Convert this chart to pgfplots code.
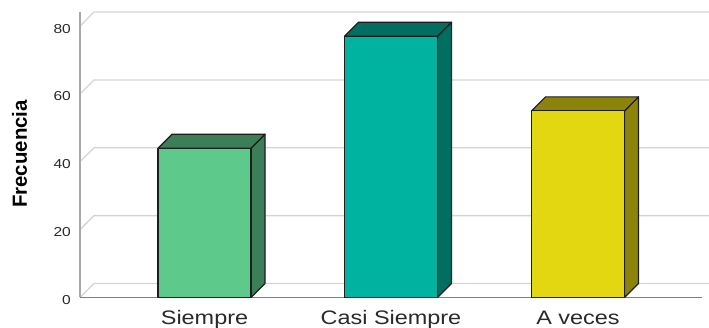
\documentclass[border=0pt]{standalone}
\usepackage{pgfplots}
\pgfplotsset{compat=1.18}
\usepackage{fontspec}
\setmainfont{Liberation Sans}
\newfontfamily\widesans[FakeStretch=1.2]{Liberation Sans}

\definecolor{gridc}{HTML}{D4D4D4}
\definecolor{wallc}{HTML}{A8A8A8}
\definecolor{floorc}{HTML}{7F7F7F}
\definecolor{edgec}{HTML}{1E1E1E}
\definecolor{labelc}{HTML}{2A2A2A}
\definecolor{siemF}{HTML}{5DCA8B}
\definecolor{siemS}{HTML}{3B7E57}
\definecolor{casiF}{HTML}{00B3A0}
\definecolor{casiS}{HTML}{006F62}
\definecolor{aveF}{HTML}{E3D712}
\definecolor{aveS}{HTML}{8C830A}

% depth of the pseudo-3D extrusion (x in axis units, y in value units)
\newcommand{\dx}{14}
\newcommand{\dy}{4.13}

\pgfplotsset{
  face/.style={draw=edgec, line width=1.2bp, fill=#1, line join=round},
  table/deep/.style={x expr=\thisrow{x}+\dx*\thisrow{d}, y expr=\thisrow{y}+\dy*\thisrow{d}},
  wall/.style={draw=gridc, line width=1.3bp},
}

\begin{document}
\begin{tikzpicture}
\begin{axis}[
  x=1bp, y=3.3925bp,
  xmin=80, xmax=709, ymin=0, ymax=87.69,
  clip=false,
  axis line style={draw=none},
  major tick length=0pt,
  xtick={204.5,391,578},
  xticklabels={Siempre, Casi Siempre, A veces},
  xticklabel style={anchor=base, yshift=-27.5bp, text=labelc,
    font=\widesans\fontsize{19.6}{20}\selectfont},
  ytick={0,20,40,60,80},
  /pgf/number format/assume math mode=true,
  yticklabel style={anchor=east, inner sep=0pt, xshift=-9bp, yshift=-2.5bp,
    text=labelc, font=\widesans\fontsize{13}{14}\selectfont},
  ylabel={Frecuencia},
  every axis y label/.style={at={(rel axis cs:-0.0962,0.4824)}, rotate=90,
    anchor=center, text=black, font=\bfseries\fontsize{20.5}{22}\selectfont},
]
% back wall grid, joined to the left wall
\addplot[wall] table[deep] {
x y d
80 0 0
80 0 1
709 0 1
};
\addplot[wall] table[deep] {
x y d
80 20 0
80 20 1
709 20 1
};
\addplot[wall] table[deep] {
x y d
80 40 0
80 40 1
709 40 1
};
\addplot[wall] table[deep] {
x y d
80 60 0
80 60 1
709 60 1
};
\addplot[wall] table[deep] {
x y d
80 80 0
80 80 1
709 80 1
};
% left wall edge and floor edge
\addplot[draw=wallc, line width=1.3bp] coordinates {(80,0) (80,84.13)};
\addplot[draw=floorc, line width=1.5bp] coordinates {(80,0) (702,0)};

% Siempre = 44
\addplot[face=siemS] table[deep] {
x y d
251 0 0
251 0 1
251 44 1
251 44 0
251 0 0
};
\addplot[face=siemS] table[deep] {
x y d
158 44 0
158 44 1
251 44 1
251 44 0
158 44 0
};
\addplot[ybar, bar width=93, bar shift=0pt, face=siemF] coordinates {(204.5,44)};

% Casi Siempre = 77
\addplot[face=casiS] table[deep] {
x y d
437.5 0 0
437.5 0 1
437.5 77 1
437.5 77 0
437.5 0 0
};
\addplot[face=casiS] table[deep] {
x y d
344.5 77 0
344.5 77 1
437.5 77 1
437.5 77 0
344.5 77 0
};
\addplot[ybar, bar width=93, bar shift=0pt, face=casiF] coordinates {(391,77)};

% A veces = 55
\addplot[face=aveS] table[deep] {
x y d
624.5 0 0
624.5 0 1
624.5 55 1
624.5 55 0
624.5 0 0
};
\addplot[face=aveS] table[deep] {
x y d
531.5 55 0
531.5 55 1
624.5 55 1
624.5 55 0
531.5 55 0
};
\addplot[ybar, bar width=93, bar shift=0pt, face=aveF] coordinates {(578,55)};

\coordinate (bbsw) at (axis cs:0,-8.99);
\coordinate (bbne) at (axis cs:709,87.69);
\end{axis}
\pgfresetboundingbox
\path (bbsw) rectangle (bbne);
\end{tikzpicture}
\end{document}
